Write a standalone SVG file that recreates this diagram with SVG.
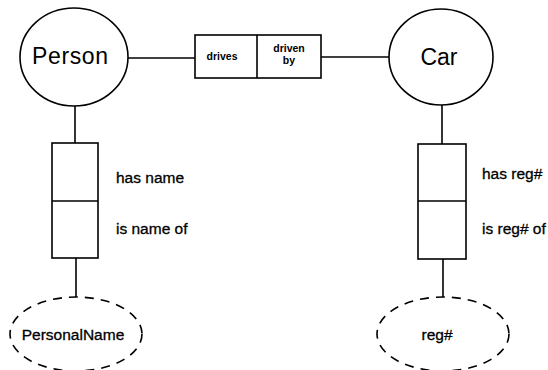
<svg xmlns="http://www.w3.org/2000/svg" width="548" height="370" viewBox="0 0 548 370">
<style>
.shape{fill:none;stroke:#000;stroke-width:1.6}
.dash{fill:none;stroke:#000;stroke-width:1.6;stroke-dasharray:9 7}
.ln{stroke:#000;stroke-width:1.6;fill:none}
text{font-family:"Liberation Sans",Arial,sans-serif;fill:#000;stroke:#000;stroke-width:0.3}
.big{font-size:23px;stroke-width:0}
.lbl{font-size:15.5px}
.sm{font-size:10.5px;font-weight:bold;stroke-width:0}
</style>
<rect width="548" height="370" fill="#fff"/>
<g id="connectors">
<line class="ln" x1="128" y1="58" x2="195" y2="58"/>
<line class="ln" x1="321" y1="57" x2="389" y2="57"/>
<line class="ln" x1="75" y1="106" x2="75" y2="143"/>
<line class="ln" x1="76" y1="258" x2="76" y2="297"/>
<line class="ln" x1="442" y1="105" x2="442" y2="144"/>
<line class="ln" x1="443" y1="259" x2="443" y2="297"/>
</g>
<g id="person">
<ellipse class="shape" cx="74" cy="57" rx="54" ry="49"/>
<text class="big" x="70" y="64" text-anchor="middle" textLength="76">Person</text>
</g>
<g id="car">
<ellipse class="shape" cx="441" cy="57" rx="52" ry="48"/>
<text class="big" x="439" y="65" text-anchor="middle">Car</text>
</g>
<g id="drives">
<rect class="shape" x="195" y="35" width="126" height="43"/>
<line class="ln" x1="257" y1="35" x2="257" y2="78"/>
<text class="sm" x="222" y="60" text-anchor="middle">drives</text>
<text class="sm" x="289" y="52" text-anchor="middle">driven</text>
<text class="sm" x="289" y="64" text-anchor="middle">by</text>
</g>
<g id="hasname">
<rect class="shape" x="52" y="143" width="46" height="115"/>
<line class="ln" x1="52" y1="201" x2="98" y2="201"/>
<text class="lbl" x="116" y="183">has name</text>
<text class="lbl" x="116" y="234">is name of</text>
</g>
<g id="hasreg">
<rect class="shape" x="418" y="144" width="48" height="115"/>
<line class="ln" x1="418" y1="201" x2="466" y2="201"/>
<text class="lbl" x="482" y="179">has reg#</text>
<text class="lbl" x="482" y="234">is reg# of</text>
</g>
<g id="personalname">
<ellipse class="dash" cx="76" cy="334" rx="66" ry="37"/>
<text class="lbl" x="73" y="340" text-anchor="middle">PersonalName</text>
</g>
<g id="regnum">
<ellipse class="dash" cx="443" cy="334" rx="66" ry="37"/>
<text class="lbl" x="437" y="340" text-anchor="middle">reg#</text>
</g>
</svg>
